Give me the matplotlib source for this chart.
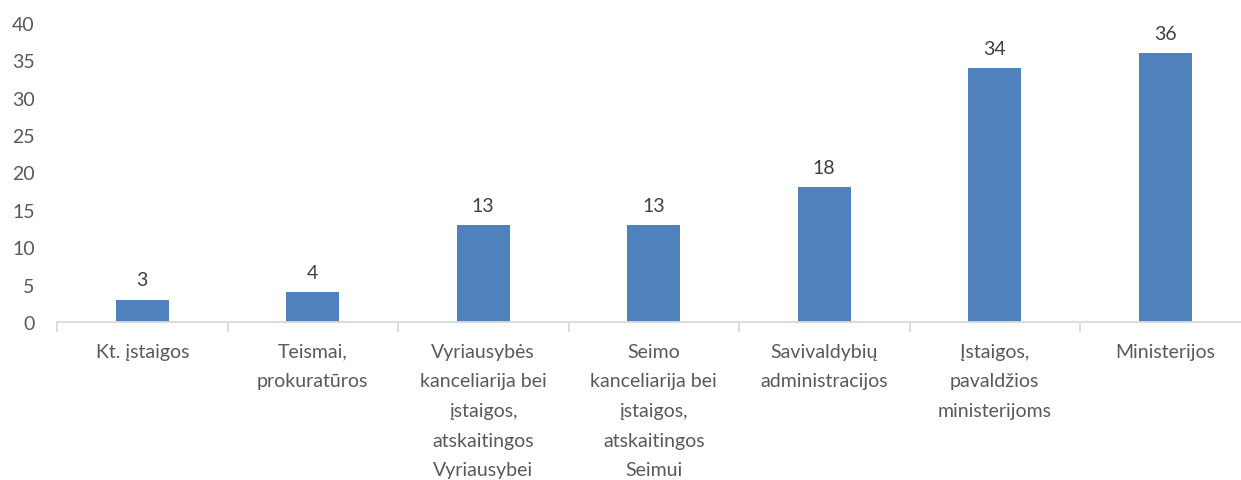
import matplotlib.pyplot as plt
import numpy as np

categories = ['Kt. įstaigos', 'Teismai,\nprokuratūros',
              'Vyriausybės\nkanceliarija bei\nįstaigos,\natskaitingos\nVyriausybei',
              'Seimo\nkanceliarija bei\nįstaigos,\natskaitingos\nSeimui',
              'Savivaldybių\nadministracijos',
              'Įstaigos,\npavaldžios\nministerijoms',
              'Ministerijos']
values = [3, 4, 13, 13, 18, 34, 36]
y_ticks = [0, 5, 10, 15, 20, 25, 30, 35, 40]

plt.rcParams['font.family'] = ['Lato', 'DejaVu Sans']

fig = plt.figure(figsize=(12.41, 4.81), dpi=100)
ax = fig.add_axes([57 / 1241, 158 / 481, 1193.5 / 1241, 299 / 481])

x = np.arange(len(categories))
bars = ax.bar(x, values, width=0.31, color='#4F81BD', zorder=2)
for b, v in zip(bars, values):
    ax.annotate(str(v), (b.get_x() + b.get_width() / 2, v), xytext=(0, 8),
                textcoords='offset points', ha='center', va='bottom',
                fontsize=14, color='#404040')

ax.set_xlim(-0.5, len(categories) - 0.5)
ax.set_ylim(0, 40)
ax.set_yticks(y_ticks)
ax.tick_params(axis='y', length=0, pad=16, labelsize=14, labelcolor='#595959')

# category labels between boundary ticks
ax.set_xticks(np.arange(len(categories) + 1) - 0.5)
ax.set_xticklabels([])
ax.tick_params(axis='x', length=7, color='#D9D9D9', width=1.3)
for i, c in enumerate(categories):
    ax.annotate(c, (i, 0), xytext=(0, -15), textcoords='offset points',
                ha='center', va='top', fontsize=14, color='#595959',
                linespacing=1.9, annotation_clip=False)

for s in ['top', 'right', 'left']:
    ax.spines[s].set_visible(False)
ax.spines['bottom'].set_color('#D9D9D9')
ax.spines['bottom'].set_linewidth(1.3)

fig.savefig('out.png', dpi=100)
